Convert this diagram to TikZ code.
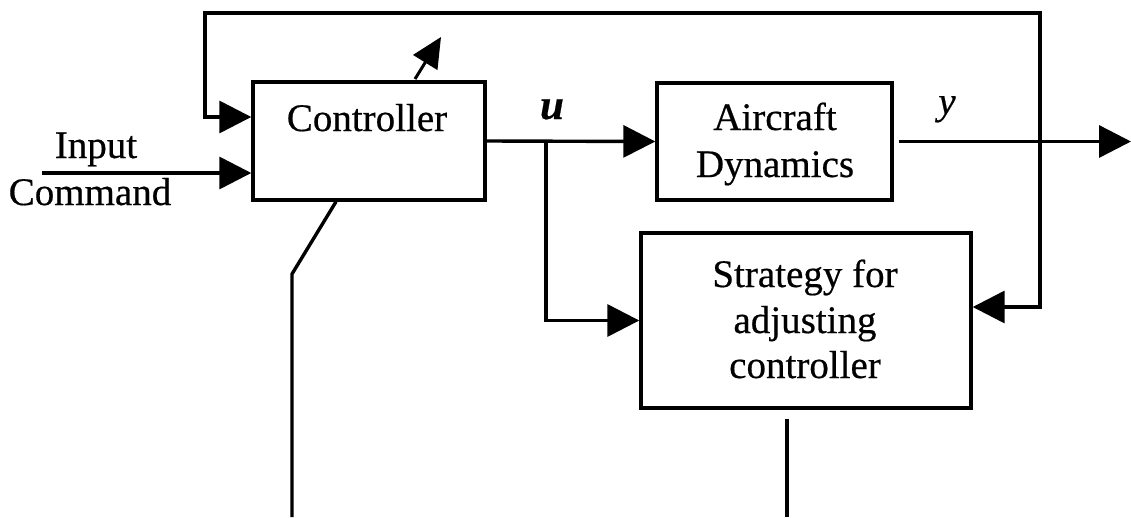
\documentclass[tikz,border=0pt]{standalone}
\usepackage{fontspec}
\setmainfont{Liberation Serif}[FakeBold=0.5]
\usetikzlibrary{arrows.meta,calc}

\begin{document}
\begin{tikzpicture}[x=1pt,y=-1pt,
  wire/.style={line width=3.4pt,line join=miter},
  arr/.style={wire,-{Triangle[length=32pt,width=32pt]}},
  block/.style={draw,line width=3.4pt,inner sep=0pt,fill=none},
  lbl/.style={anchor=base,inner sep=0pt,font=\fontsize{39}{46}\selectfont},
]
\useasboundingbox (0,0) rectangle (1131,517);

% blocks
\node[block,minimum width=232pt,minimum height=118pt] (ctrl)  at (369,141)   {};
\node[block,minimum width=235pt,minimum height=117pt] (air)   at (774.5,141.5) {};
\node[block,minimum width=330pt,minimum height=175pt] (strat) at (806,320.5) {};

% block texts
\node[lbl] (ctrlT) at (367,131) {Controller};
\node[lbl] (airT1) at (775,130) {Aircraft};
\node[lbl] (airT2) at (775,177) {Dynamics};
\node[lbl] (stT1)  at (805,287) {Strategy for};
\node[lbl] (stT2)  at (805,333) {adjusting};
\node[lbl] (stT3)  at (805,378) {controller};

% signal labels
\node[lbl] (inT)  at (96,158) {Input};
\node[lbl] (cmdT) at (90,205) {Command};
\node[lbl] (uT)   at (552,119) {\fontsize{43}{46}\selectfont\textbf{\textit{u}}};
\node[lbl] (yT)   at (947,114) {\textit{y}};

% named points on the wires
\coordinate (cmd)  at (42,173);
\coordinate (ub)   at (546,141);
\coordinate (ytap) at (1040,141.5);
\coordinate (yout) at (1131,141.5);
\coordinate (topR) at (1040,13);
\coordinate (topL) at (205,13);
\coordinate (knee) at (292,274);
\coordinate (bot1) at (292,517);
\coordinate (bot2) at (787,517);
\coordinate (adjS) at (415,79);
\coordinate (adjE) at (441,37);

% input command
\draw[arr] (cmd) -- (cmd -| ctrl.west);

% control signal u
\draw[arr] (ctrl.east) -- (air.west);
\draw[arr] (ub) |- (strat.west);

% output y
\draw[arr] ([xshift=5pt]air.east) -- (yout);

% feedback of y
\draw[arr] (ytap) -- (topR) -- (topL) |- ([yshift=24pt]ctrl.west);
\draw[arr] (ytap) |- ([yshift=13.5pt]strat.east);

% adjustment path from the strategy to the controller
\draw[wire] ([xshift=-33pt]ctrl.south) -- (knee) -- (bot1);
\draw[wire] ([xshift=-19pt,yshift=-9pt]strat.south) -- (bot2);

% adjustable-controller arrow
\draw[line width=3pt,-{Triangle[length=30pt,width=28pt]}] (adjS) -- (adjE);
\end{tikzpicture}
\end{document}
